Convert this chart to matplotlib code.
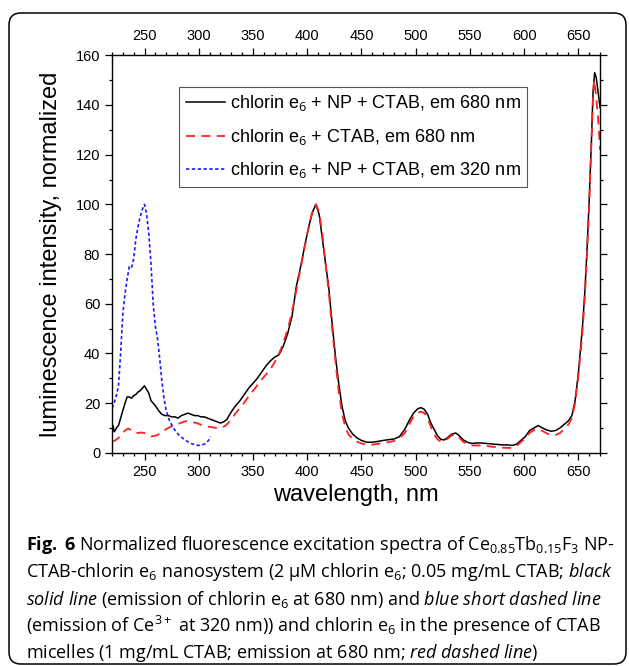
import matplotlib
matplotlib.use("Agg")
import matplotlib.pyplot as plt
from matplotlib.patches import FancyBboxPatch
from matplotlib.ticker import MultipleLocator

plt.rcParams['font.family'] = ['Liberation Sans', 'DejaVu Sans']
plt.rcParams['mathtext.fontset'] = 'custom'
plt.rcParams['mathtext.rm'] = 'Open Sans'
plt.rcParams['mathtext.it'] = 'Open Sans:italic'
plt.rcParams['mathtext.bf'] = 'Open Sans:bold'

# chlorin e6 + NP + CTAB, em 680 nm
wl_black = [220, 221, 222, 223, 224, 226, 228, 230, 232, 234, 236, 238, 240, 242, 244, 246,
            248, 250, 252, 254, 256, 258, 260, 263, 266, 269, 272, 275, 278, 281, 284, 287,
            290, 293, 296, 299, 302, 305, 308, 311, 314, 317, 320, 323, 326, 330, 334, 338,
            342, 346, 350, 354, 358, 362, 366, 370, 374, 378, 382, 386, 390, 394, 398, 402,
            405, 408, 411, 414, 417, 420, 423, 426, 429, 432, 435, 438, 442, 446, 450, 455,
            460, 465, 470, 475, 480, 485, 490, 494, 498, 502, 505, 508, 511, 514, 517, 520,
            523, 526, 529, 533, 537, 540, 544, 548, 552, 556, 560, 565, 570, 575, 580, 585,
            589, 593, 597, 601, 605, 609, 613, 617, 621, 625, 629, 633, 637, 641, 644, 647,
            650, 652, 654, 656, 658, 660, 662, 663.5, 665, 666.5, 668, 670]
int_black = [9.5, 11, 8.5, 9, 10, 11, 14, 17, 20, 22.5, 22.5, 22, 23, 23.5, 24.5, 25,
             26, 27, 25.5, 24, 21, 20, 19, 17, 15.5, 15, 15, 14.5, 14.5, 14, 15, 15.5,
             16, 15.5, 15, 15, 14.5, 14.5, 14, 13.5, 13, 12.5, 12, 12.5, 13.5, 16.5, 19, 21,
             23.5, 26, 28, 30, 32.5, 35, 37, 38.5, 39.5, 43, 48, 55, 67, 75, 84, 92,
             97, 100, 96, 86, 76, 66, 52, 39, 28, 19, 13, 10, 7.5, 6, 5, 4.3,
             4.3, 4.6, 5, 5.3, 5.6, 6.5, 9.5, 13, 16, 17.8, 18.2, 17.5, 15.5, 12, 9.5, 7,
             5.5, 5.2, 6, 7.5, 8, 7, 5.2, 4.2, 3.8, 4, 4, 3.8, 3.6, 3.4, 3.2, 3.2,
             3, 3.5, 5, 6.5, 9, 10, 11, 10, 9.2, 8.7, 9, 10, 11.5, 13, 15, 21,
             32, 42, 52, 65, 82, 102, 125, 145, 153, 151, 146, 139]

# chlorin e6 + CTAB, em 680 nm
wl_red = [220, 223, 226, 229, 232, 235, 238, 241, 244, 247, 250, 253, 256, 259, 262, 265,
          268, 271, 274, 277, 280, 283, 286, 289, 292, 295, 298, 301, 304, 307, 310, 313,
          316, 319, 322, 325, 328, 331, 334, 337, 340, 344, 348, 352, 356, 360, 364, 368,
          372, 376, 380, 384, 388, 392, 396, 400, 404, 408, 411, 414, 417, 420, 423, 426,
          429, 432, 435, 438, 442, 446, 450, 455, 460, 465, 470, 475, 480, 485, 490, 494,
          498, 502, 505, 508, 511, 514, 517, 520, 523, 526, 529, 533, 537, 540, 544, 548,
          552, 556, 560, 565, 570, 575, 580, 585, 589, 593, 597, 601, 605, 609, 613, 617,
          621, 625, 629, 633, 637, 641, 644, 647, 650, 652, 654, 656, 658, 660, 662, 663.5,
          664.5, 666, 668, 670]
int_red = [4.5, 5, 6, 7.5, 9, 9.8, 9, 8.2, 8, 8.2, 8, 7.2, 6.6, 6.8, 7.2, 8,
           9, 9.8, 10.5, 11, 11.5, 12, 12.5, 12.8, 12.5, 12.3, 12, 11.5, 11, 10.6, 10.5, 10.3,
           10, 10, 10.3, 11, 12.5, 14, 16, 17.5, 19, 21.5, 24, 26, 28.5, 30.5, 32.5, 35,
           38, 42, 47, 53, 61, 70, 79, 88, 96, 100, 97, 88, 76, 64, 50, 37,
           25, 16, 10.5, 7.5, 5.5, 4.5, 3.8, 3.3, 3.3, 3.6, 4, 4.3, 4.8, 5.8, 8, 11.5,
           14.5, 16.2, 16.6, 16, 14, 10.5, 7.5, 5.5, 4.6, 4.6, 5.5, 7, 7.4, 6.2, 4.4, 3.4,
           3, 3, 3, 2.8, 2.5, 2.3, 2.1, 2, 2, 2.8, 4.3, 6, 8, 9.2, 9.6, 8.8,
           7.8, 7.2, 7.2, 8, 9.5, 11.5, 14, 20, 31, 40, 50, 63, 80, 100, 124, 143,
           150, 145, 136, 122]

# chlorin e6 + NP + CTAB, em 320 nm
wl_blue = [220, 222, 224, 226, 228, 230, 232, 234, 236, 238, 240, 242, 244, 246, 248, 250,
           252, 254, 256, 258, 260, 262, 264, 266, 268, 270, 273, 276, 279, 282, 285, 288,
           291, 294, 297, 300, 303, 306, 309, 311]
int_blue = [18, 20, 23, 27, 40, 56, 64, 70, 75, 74.5, 78, 86, 91, 95, 98, 100,
            96, 88, 76, 60, 51, 46, 38, 29, 22, 17, 13, 10.5, 8.5, 7, 6, 5,
            4.2, 3.6, 3.2, 3, 3.2, 3.7, 5, 6.5]

labels = [r'chlorin e$_6$ + NP + CTAB, em 680 nm',
          r'chlorin e$_6$ + CTAB, em 680 nm',
          r'chlorin e$_6$ + NP + CTAB, em 320 nm']

caption = [
    r'$\mathbf{Fig.}$ $\mathbf{6}$ Normalized fluorescence excitation spectra of Ce$_{0.85}$Tb$_{0.15}$F$_3$ NP-',
    r'CTAB-chlorin e$_6$ nanosystem (2 µM chlorin e$_6$; 0.05 mg/mL CTAB; $\mathit{black}$',
    r'$\mathit{solid}$ $\mathit{line}$ (emission of chlorin e$_6$ at 680 nm) and '
    r'$\mathit{blue}$ $\mathit{short}$ $\mathit{dashed}$ $\mathit{line}$',
    r'(emission of Ce$^{3+}$ at 320 nm)) and chlorin e$_6$ in the presence of CTAB',
    r'micelles (1 mg/mL CTAB; emission at 680 nm; $\mathit{red}$ $\mathit{dashed}$ $\mathit{line}$)',
]

fig = plt.figure(figsize=(6.29, 6.66), dpi=100)
ax = fig.add_axes([0.178, 0.320, 0.776, 0.597])

ax.plot(wl_black, int_black, color='black', lw=1.1, label=labels[0])
ax.plot(wl_red, int_red, color='#ff2020', lw=1.3, dashes=(5, 3.5), label=labels[1])
ax.plot(wl_blue, int_blue, color='#1a1aff', lw=1.2, dashes=(2, 1.5), label=labels[2])

ax.set_xlim(220, 670)
ax.set_ylim(0, 160)
ax.xaxis.set_major_locator(MultipleLocator(50))
ax.xaxis.set_minor_locator(MultipleLocator(10))
ax.yaxis.set_major_locator(MultipleLocator(20))
ax.yaxis.set_minor_locator(MultipleLocator(10))
ax.tick_params(which='both', direction='out', top=True, right=True,
               labeltop=True, labelright=False, labelsize=10.5, width=0.9)
ax.tick_params(which='major', length=5)
ax.tick_params(which='minor', length=2.5)
for s in ax.spines.values():
    s.set_linewidth(1.0)

ax.set_xlabel('wavelength, nm', fontsize=17, labelpad=4)
ax.set_ylabel('luminescence intensity, normalized', fontsize=17, labelpad=10)

leg = ax.legend(loc='upper left', bbox_to_anchor=(0.138, 0.92), fontsize=13,
                fancybox=False, edgecolor='#555555', framealpha=1,
                handlelength=2.2, handletextpad=0.25, borderpad=0.35, labelspacing=0.75,
                borderaxespad=0)
leg.get_frame().set_linewidth(0.8)

for i, line in enumerate(caption):
    fig.text(0.041, (666 - 545 - 27 * i) / 666, line, fontsize=13,
             family=['Open Sans', 'DejaVu Sans'], va='center', ha='left')

border = FancyBboxPatch((0.09, 0.02), 6.17, 6.51,
                        boxstyle='round,pad=0,rounding_size=0.12',
                        transform=fig.dpi_scale_trans, fill=False,
                        edgecolor='black', lw=1.1)
fig.patches.append(border)

fig.savefig('out.png', dpi=100)
